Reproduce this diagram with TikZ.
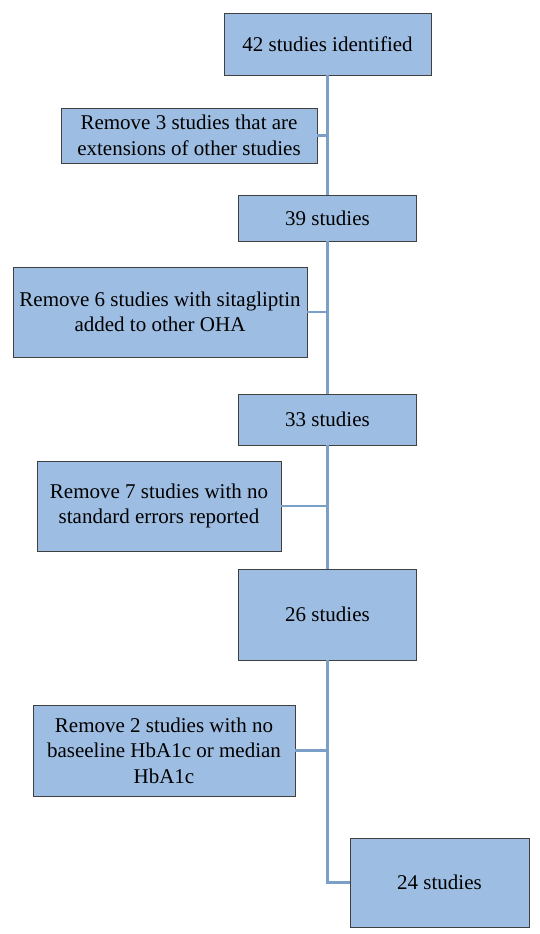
\documentclass[tikz,border=0pt]{standalone}
\usepackage{fontspec}
\setmainfont{Liberation Serif}
\definecolor{boxfill}{HTML}{9DBDE2}
\definecolor{boxline}{HTML}{404040}
\definecolor{connline}{HTML}{7BA0C8}
\begin{document}
\begin{tikzpicture}[x=1pt,y=-1pt,
  box/.style={draw=boxline, fill=boxfill, line width=0.9pt, inner sep=2pt, align=center,
    font=\fontsize{21}{25.5}\selectfont, text=black},
  conn/.style={draw=connline, line width=2.6pt}]
\useasboundingbox (0,0) rectangle (539,934);
\node[box, minimum width=207pt, minimum height=62pt] (b1) at (327.5,44) {42 studies identified};
\node[box, minimum width=256pt, minimum height=55pt] (b2) at (189,135.5) {Remove 3 studies that are\\extensions of other studies};
\node[box, minimum width=178pt, minimum height=46pt] (b3) at (327.5,218) {39 studies};
\node[box, minimum width=294pt, minimum height=90pt] (b4) at (160,312) {Remove 6 studies with sitagliptin\\added to other OHA};
\node[box, minimum width=178pt, minimum height=51pt] (b5) at (327.5,419.5) {33 studies};
\node[box, minimum width=244pt, minimum height=90pt] (b6) at (159,506) {Remove 7 studies with no\\standard errors reported};
\node[box, minimum width=178pt, minimum height=91pt] (b7) at (327.5,614.5) {26 studies};
\node[box, minimum width=262pt, minimum height=91pt] (b8) at (164,750.5) {Remove 2 studies with no\\baseeline HbA1c or median\\HbA1c};
\node[box, minimum width=179pt, minimum height=89pt] (b9) at (439.5,882.5) {24 studies};
\coordinate (corner) at (b1.south |- b9.west);
\draw[conn] (b1.south) -- (b3.north);
\draw[conn] (b3.south) -- (b5.north);
\draw[conn] (b5.south) -- (b7.north);
\draw[conn] (b7.south) -- (corner) -- (b9.west);
\draw[conn] (b2.east) -- (b2.east -| b1.south);
\draw[conn] (b4.east) -- (b4.east -| b1.south);
\draw[conn] (b6.east) -- (b6.east -| b1.south);
\draw[conn] (b8.east) -- (b8.east -| b1.south);
\end{tikzpicture}
\end{document}
